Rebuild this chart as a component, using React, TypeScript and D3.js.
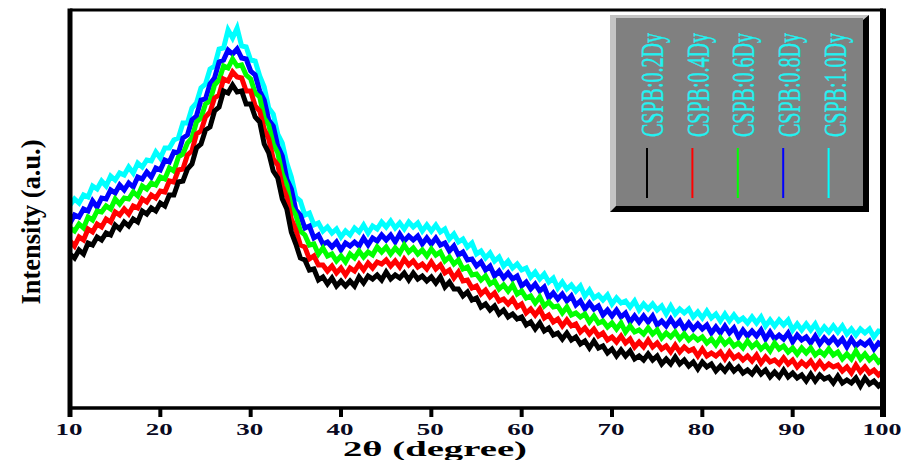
import React from "react";
import * as d3 from "d3";

const WIDTH = 901;
const HEIGHT = 460;
const PLOT = { left: 70, right: 883, top: 10, bottom: 408 };

// 2θ sampling grid, 0.5° steps from 10 to 100
const THETA = d3.range(10, 100.25, 0.5);
const X_TICKS = [10, 20, 30, 40, 50, 60, 70, 80, 90, 100];

const LABELS = ["CSPB:0.2Dy", "CSPB:0.4Dy", "CSPB:0.6Dy", "CSPB:0.8Dy", "CSPB:1.0Dy"];
const COLORS = ["#000000", "#ff0000", "#00ff00", "#0000ff", "#00ffff"];

// intensities (a.u.)
const DY_02 = [
  154, 150, 158, 154, 165, 163, 171, 168, 175, 173,
  183, 179, 186, 182, 189, 186, 197, 194, 200, 197,
  205, 202, 213, 213, 226, 227, 239, 244, 260, 264,
  278, 281, 297, 301, 317, 315, 323, 316, 317, 304,
  304, 291, 286, 264, 255, 237, 230, 209, 199, 176,
  164, 150, 148, 138, 139, 128, 131, 124, 130, 122,
  127, 122, 127, 122, 131, 125, 132, 129, 133, 128,
  136, 129, 133, 130, 135, 128, 135, 129, 132, 127,
  131, 125, 131, 121, 126, 119, 119, 112, 116, 108,
  110, 101, 104, 98, 102, 94, 98, 91, 94, 89,
  91, 83, 86, 79, 85, 77, 80, 73, 75, 69,
  75, 68, 71, 64, 67, 60, 67, 60, 62, 55,
  59, 52, 58, 52, 57, 49, 52, 48, 54, 48,
  52, 44, 49, 44, 51, 44, 48, 42, 46, 39,
  46, 41, 44, 37, 42, 37, 43, 37, 41, 35,
  38, 34, 40, 34, 38, 31, 36, 31, 38, 31,
  35, 30, 33, 27, 34, 27, 33, 29, 31, 25,
  32, 25, 28, 25, 30, 22, 30, 24, 27, 22,
  26,
];

const DY_04 = [
  167, 162, 171, 168, 179, 176, 184, 181, 189, 186,
  196, 193, 199, 194, 202, 200, 209, 206, 213, 210,
  217, 216, 227, 226, 238, 239, 253, 257, 274, 277,
  291, 296, 310, 313, 329, 327, 336, 331, 330, 317,
  317, 302, 297, 279, 269, 249, 243, 222, 211, 189,
  178, 163, 161, 149, 152, 143, 143, 137, 142, 135,
  140, 133, 140, 137, 144, 138, 145, 140, 146, 144,
  148, 142, 147, 141, 149, 143, 147, 141, 144, 139,
  146, 139, 143, 135, 138, 130, 136, 127, 128, 120,
  122, 114, 118, 111, 115, 107, 109, 104, 109, 101,
  104, 95, 99, 93, 99, 90, 93, 86, 89, 82,
  88, 82, 84, 76, 80, 74, 79, 72, 75, 68,
  71, 66, 72, 65, 69, 61, 66, 61, 68, 61,
  65, 59, 62, 56, 63, 56, 61, 57, 59, 52,
  59, 52, 55, 52, 56, 49, 56, 50, 53, 48,
  52, 47, 53, 45, 51, 46, 48, 44, 50, 44,
  48, 41, 46, 42, 47, 40, 46, 40, 44, 41,
  43, 37, 41, 35, 43, 36, 41, 35, 38, 33,
  37,
];

const DY_06 = [
  180, 177, 184, 180, 191, 188, 197, 196, 202, 199,
  209, 204, 210, 209, 216, 212, 222, 219, 225, 223,
  231, 229, 240, 237, 251, 254, 265, 270, 286, 290,
  304, 307, 323, 328, 342, 340, 349, 342, 343, 333,
  329, 315, 311, 290, 283, 264, 255, 234, 223, 201,
  193, 177, 173, 163, 164, 154, 160, 152, 154, 147,
  152, 146, 154, 150, 157, 151, 156, 153, 161, 156,
  161, 154, 160, 155, 163, 156, 160, 154, 158, 152,
  159, 153, 156, 147, 151, 144, 148, 139, 141, 133,
  134, 128, 132, 124, 127, 119, 123, 117, 123, 114,
  117, 110, 112, 105, 111, 102, 106, 101, 102, 95,
  101, 93, 95, 91, 94, 86, 92, 85, 87, 81,
  85, 79, 85, 76, 82, 76, 78, 74, 80, 74,
  78, 70, 75, 71, 76, 69, 74, 68, 72, 68,
  71, 65, 69, 63, 70, 64, 68, 62, 65, 60,
  67, 61, 65, 59, 63, 57, 65, 59, 62, 56,
  60, 54, 60, 55, 60, 53, 57, 53, 59, 53,
  56, 49, 54, 49, 57, 49, 54, 48, 52, 46,
  50,
];

const DY_08 = [
  185, 193, 191, 199, 197, 207, 201, 210, 209, 218,
  215, 223, 218, 225, 221, 231, 229, 236, 231, 240,
  238, 248, 246, 256, 255, 270, 273, 288, 292, 308,
  309, 324, 330, 346, 348, 358, 354, 359, 350, 349,
  337, 333, 317, 308, 288, 282, 262, 252, 229, 219,
  198, 193, 180, 182, 170, 173, 164, 166, 161, 166,
  158, 165, 162, 166, 162, 170, 163, 170, 167, 173,
  168, 173, 166, 174, 167, 172, 168, 172, 164, 170,
  164, 170, 163, 165, 157, 162, 153, 156, 148, 149,
  142, 146, 138, 142, 132, 137, 130, 135, 129, 132,
  122, 126, 119, 124, 117, 121, 110, 115, 109, 114,
  107, 112, 103, 107, 99, 105, 99, 102, 93, 98,
  92, 98, 91, 95, 86, 92, 86, 92, 86, 92,
  83, 87, 82, 89, 82, 87, 79, 85, 79, 84,
  79, 83, 75, 81, 75, 82, 75, 80, 71, 78,
  72, 77, 72, 78, 69, 76, 69, 73, 69, 75,
  66, 73, 68, 71, 65, 72, 64, 70, 65, 70,
  64, 69, 61, 69, 62, 66, 63, 67, 59, 65,
  62,
];

const DY_10 = [
  203, 209, 205, 213, 211, 222, 219, 227, 222, 232,
  228, 235, 233, 241, 235, 245, 241, 248, 247, 256,
  250, 260, 260, 268, 270, 285, 285, 300, 305, 320,
  324, 339, 342, 359, 360, 378, 370, 380, 362, 361,
  348, 347, 332, 321, 300, 294, 274, 265, 245, 231,
  211, 207, 193, 195, 183, 185, 177, 181, 175, 179,
  171, 177, 173, 180, 176, 183, 175, 182, 179, 186,
  181, 187, 180, 185, 179, 186, 181, 185, 177, 183,
  177, 183, 176, 179, 169, 174, 166, 169, 161, 165,
  154, 157, 150, 155, 147, 151, 142, 147, 140, 144,
  138, 140, 131, 136, 129, 134, 126, 130, 120, 126,
  119, 123, 117, 122, 112, 118, 110, 113, 108, 113,
  104, 110, 105, 107, 101, 107, 98, 104, 99, 104,
  98, 102, 94, 102, 94, 99, 95, 99, 91, 96,
  90, 97, 90, 94, 87, 94, 87, 93, 87, 90,
  85, 91, 85, 91, 82, 88, 82, 88, 83, 88,
  78, 84, 78, 84, 78, 84, 75, 81, 76, 82,
  76, 82, 74, 79, 73, 79, 75, 79, 71, 77,
  76,
];

const SERIES = [DY_02, DY_04, DY_06, DY_08, DY_10];

const SERIF = "'Liberation Serif', 'Times New Roman', serif";

export default function App() {
  const x = d3.scaleLinear().domain([10, 100]).range([PLOT.left, PLOT.right]);
  const y = d3.scaleLinear().domain([0, 398]).range([PLOT.bottom, PLOT.top]);

  const line = d3
    .line<number>()
    .x((d, i) => x(THETA[i]))
    .y((d) => y(d));

  // highest doping drawn first so the lower traces sit on top
  const drawOrder = [4, 3, 2, 1, 0];

  return (
    <svg
      width={WIDTH}
      height={HEIGHT}
      style={{ position: "absolute", left: 0, top: 0, background: "#fff" }}
    >
      <rect width={WIDTH} height={HEIGHT} fill="#fff" />

      {drawOrder.map((k) => (
        <path
          key={k}
          d={line(SERIES[k].slice(0, THETA.length)) || ""}
          fill="none"
          stroke={COLORS[k]}
          strokeWidth={5}
          strokeLinejoin="miter"
        />
      ))}

      {/* frame */}
      <g stroke="#000" fill="none">
        <line x1={PLOT.left} x2={PLOT.right} y1={PLOT.top} y2={PLOT.top} strokeWidth={3} />
        <line x1={PLOT.left} x2={PLOT.right} y1={PLOT.bottom} y2={PLOT.bottom} strokeWidth={3.5} />
        <line x1={PLOT.left} x2={PLOT.left} y1={PLOT.top - 1.5} y2={PLOT.bottom + 9} strokeWidth={5} />
        <line x1={PLOT.right} x2={PLOT.right} y1={PLOT.top - 1.5} y2={PLOT.bottom + 9} strokeWidth={6} />
        {X_TICKS.map((t) => (
          <line key={t} x1={x(t)} x2={x(t)} y1={PLOT.bottom} y2={PLOT.bottom + 9} strokeWidth={4} />
        ))}
      </g>

      {/* x tick labels */}
      {X_TICKS.map((t) => (
        <text
          key={t}
          x={x(t) - 1}
          y={435}
          textAnchor="middle"
          fontFamily={SERIF}
          fontWeight="bold"
          fontSize={17}
          fill="#0a0a22"
          textLength={t >= 100 ? 39 : 27}
          lengthAdjust="spacingAndGlyphs"
        >
          {t}
        </text>
      ))}

      <text
        x={435}
        y={456}
        textAnchor="middle"
        fontFamily={SERIF}
        fontWeight="bold"
        fontSize={22}
        fill="#000"
        textLength={184}
        lengthAdjust="spacingAndGlyphs"
      >
        2θ (degree)
      </text>

      <text
        transform="translate(40,222) rotate(-90)"
        textAnchor="middle"
        fontFamily={SERIF}
        fontWeight="bold"
        fontSize={28}
        fill="#000"
        textLength={165}
        lengthAdjust="spacingAndGlyphs"
      >
        Intensity (a.u.)
      </text>

      {/* legend */}
      <g>
        <rect x={610} y={15} width={259} height={197} fill="#c4c4c4" />
        <polygon points="869,15 869,212 610,212 616,206 863,206 863,20" fill="#000" />
        <rect x={616} y={18} width={247} height={188} fill="#808080" />
        {LABELS.map((label, i) => (
          <g key={label}>
            <text
              transform={`translate(${663 + i * 45.7},137) rotate(-90)`}
              fontFamily={SERIF}
              fontSize={31}
              fill="#22f2f2"
              stroke="#22f2f2"
              strokeWidth={0.4}
              textLength={104}
              lengthAdjust="spacingAndGlyphs"
            >
              {label}
            </text>
            <line
              x1={647 + i * 45.4}
              x2={647 + i * 45.4}
              y1={148}
              y2={198}
              stroke={COLORS[i]}
              strokeWidth={2}
            />
          </g>
        ))}
      </g>
    </svg>
  );
}
